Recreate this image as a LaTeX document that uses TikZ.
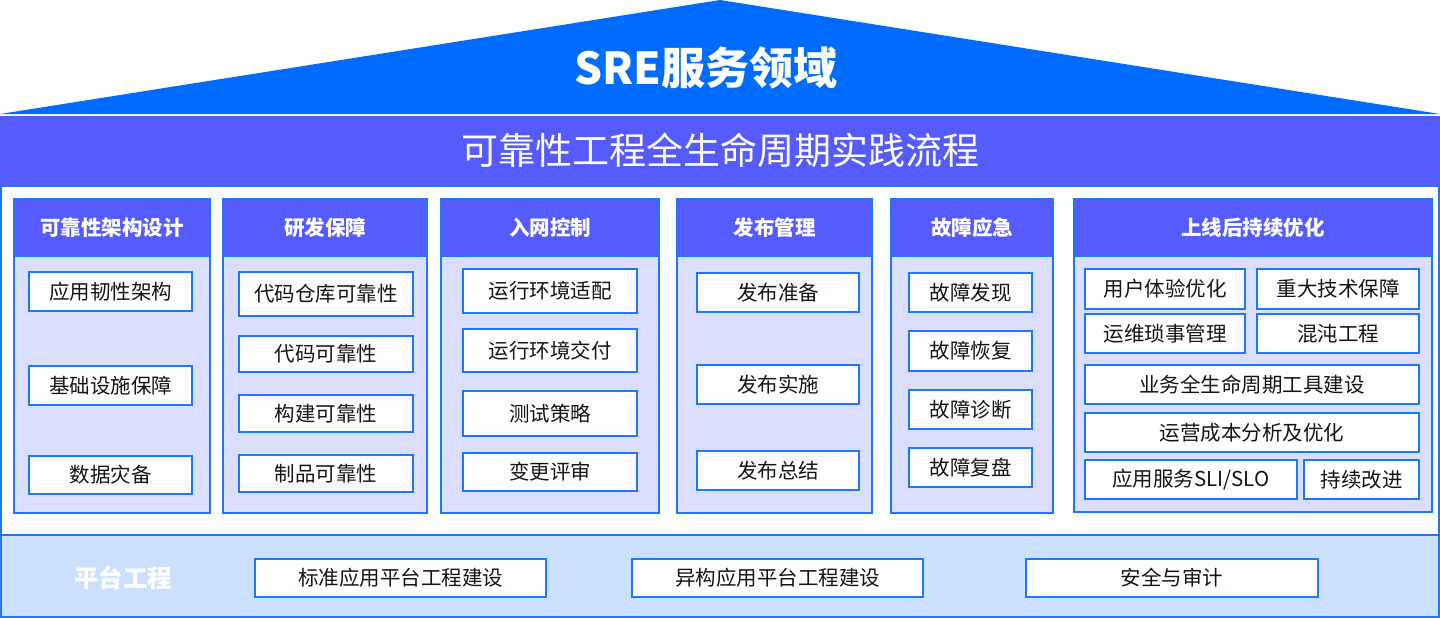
\documentclass[tikz,border=0pt]{standalone}
\usepackage{fontspec}
\setmainfont{Noto Sans CJK SC}
\definecolor{roof}{RGB}{0,107,255}
\definecolor{band}{RGB}{85,91,255}
\definecolor{bodyfill}{RGB}{220,222,253}
\definecolor{edge}{RGB}{30,120,255}
\definecolor{plat}{RGB}{204,224,255}
\definecolor{ink}{RGB}{20,20,20}
\tikzset{
  itembox/.style={draw=edge, line width=1.6pt, fill=white, inner sep=0pt, outer sep=0pt, text=ink, font=\fontsize{20.5}{24}\selectfont},
  headbox/.style={draw=edge, line width=1.6pt, fill=band, inner sep=0pt, outer sep=0pt, text=white, font=\fontsize{20.5}{24}\selectfont\bfseries},
  colbody/.style={draw=edge, line width=1.6pt, fill=bodyfill, inner sep=0pt, outer sep=0pt},
}
\newcommand\ibox[7][itembox]{\node[#1, minimum width={#5-#3}, minimum height={#6-#4}] (#2) at ({(#3+#5)/2},{(#4+#6)/2}) {#7};}
\begin{document}
\begin{tikzpicture}[x=1pt,y=-1pt]
\useasboundingbox (0,0) rectangle (1440,618);
% roof
\fill[roof] (0,114) -- (720,0) -- (1440,114) -- cycle;
\node[text=white, font=\fontsize{44}{50}\selectfont\bfseries] (title) at (706,68) {SRE服务领域};
% band
\ibox[colbody, fill=band, draw=none]{bandbox}{0}{116}{1440}{186}{}
\node[text=white, font=\fontsize{37}{42}\selectfont] (bandtext) at (720,150) {可靠性工程全生命周期实践流程};
% frame
\ibox[colbody, fill=white]{frame}{1}{186}{1439}{535}{}
% platform
\ibox[colbody, fill=plat]{platform}{1}{535}{1439}{617}{}
\node[text=white, font=\fontsize{24.5}{28}\selectfont\bfseries] (plattitle) at (123,578) {平台工程};
\ibox{p1}{255}{559}{546}{597}{标准应用平台工程建设}
\ibox{p2}{632}{559}{923}{597}{异构应用平台工程建设}
\ibox{p3}{1026}{559}{1318}{597}{安全与审计}
% columns
\ibox[colbody]{b1}{14}{256}{210}{513}{}
\ibox[headbox]{h1}{14}{199}{210}{256}{可靠性架构设计}
\ibox[colbody]{b2}{223}{256}{427}{513}{}
\ibox[headbox]{h2}{223}{199}{427}{256}{研发保障}
\ibox[colbody]{b3}{441}{256}{659}{513}{}
\ibox[headbox]{h3}{441}{199}{659}{256}{入网控制}
\ibox[colbody]{b4}{677}{256}{872}{513}{}
\ibox[headbox]{h4}{677}{199}{872}{256}{发布管理}
\ibox[colbody]{b5}{891}{256}{1053}{513}{}
\ibox[headbox]{h5}{891}{199}{1053}{256}{故障应急}
\ibox[colbody]{b6}{1074}{256}{1432}{512}{}
\ibox[headbox]{h6}{1074}{199}{1432}{256}{上线后持续优化}
% col1 items
\ibox{c1a}{29}{272}{192}{311}{应用韧性架构}
\ibox{c1b}{29}{366}{192}{405}{基础设施保障}
\ibox{c1c}{29}{456}{192}{494}{数据灾备}
% col2
\ibox{c2a}{239}{272}{413}{316}{代码仓库可靠性}
\ibox{c2b}{239}{336}{413}{372}{代码可靠性}
\ibox{c2c}{239}{395}{413}{432}{构建可靠性}
\ibox{c2d}{239}{455}{413}{492}{制品可靠性}
% col3
\ibox{c3a}{463}{269}{637}{313}{运行环境适配}
\ibox{c3b}{463}{329}{637}{372}{运行环境交付}
\ibox{c3c}{463}{391}{637}{436}{测试策略}
\ibox{c3d}{463}{453}{637}{491}{变更评审}
% col4
\ibox{c4a}{697}{273}{859}{312}{发布准备}
\ibox{c4b}{697}{365}{859}{404}{发布实施}
\ibox{c4c}{697}{451}{859}{490}{发布总结}
% col5
\ibox{c5a}{909}{273}{1032}{312}{故障发现}
\ibox{c5b}{909}{331}{1032}{371}{故障恢复}
\ibox{c5c}{909}{390}{1032}{429}{故障诊断}
\ibox{c5d}{909}{448}{1032}{487}{故障复盘}
% col6
\ibox{c6a}{1085}{269}{1245}{309}{用户体验优化}
\ibox{c6b}{1257}{269}{1419}{309}{重大技术保障}
\ibox{c6c}{1085}{314}{1245}{353}{运维琐事管理}
\ibox{c6d}{1257}{314}{1419}{353}{混沌工程}
\ibox{c6e}{1085}{365}{1419}{404}{业务全生命周期工具建设}
\ibox{c6f}{1085}{413}{1419}{452}{运营成本分析及优化}
\ibox{c6g}{1085}{460}{1297}{499}{应用服务SLI/SLO}
\ibox{c6h}{1304}{460}{1419}{499}{持续改进}
\end{tikzpicture}
\end{document}
